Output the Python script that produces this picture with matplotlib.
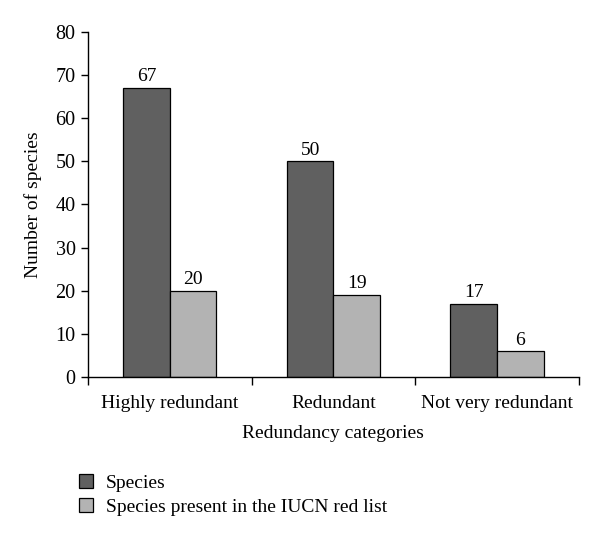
import numpy as np
import matplotlib.pyplot as plt

categories = ["Highly redundant", "Redundant", "Not very redundant"]
species = [67, 50, 17]
iucn = [20, 19, 6]
series_names = ["Species", "Species present in the IUCN red list"]

plt.rcParams["font.family"] = ["Liberation Serif", "DejaVu Serif"]
plt.rcParams["font.size"] = 14

fig = plt.figure(figsize=(6, 5.38), dpi=100)
ax = fig.add_axes([0.1467, 0.2993, 0.818, 0.6412])

x = np.arange(len(categories))
w = 0.285
b1 = ax.bar(x - w / 2, species, w, color="#606060", edgecolor="black", linewidth=0.9, label=series_names[0])
b2 = ax.bar(x + w / 2, iucn, w, color="#b3b3b3", edgecolor="black", linewidth=0.9, label=series_names[1])

for bars in (b1, b2):
    for r in bars:
        ax.text(r.get_x() + r.get_width() / 2, r.get_height() + 0.6, str(int(r.get_height())),
                ha="center", va="bottom", fontsize=14)

ax.set_xlim(-0.5, 2.5)
ax.set_ylim(0, 80)
ax.set_yticks(range(0, 81, 10))
ax.set_xticks(x)
ax.set_xticklabels(categories)
ax.set_xticks([-0.5, 0.5, 1.5, 2.5], minor=True)
ax.tick_params(axis="x", which="major", length=0, pad=13)
ax.tick_params(axis="x", which="minor", length=6, direction="out", width=1)
ax.tick_params(axis="y", length=5, width=1, pad=4, labelsize=14.5)

for s in ("top", "right"):
    ax.spines[s].set_visible(False)
for s in ("left", "bottom"):
    ax.spines[s].set_linewidth(1)

ax.set_ylabel("Number of species", labelpad=10)
ax.set_xlabel("Redundancy categories", labelpad=9)

fig.legend(handles=[b1, b2], loc="upper left", bbox_to_anchor=(0.118, 0.133), frameon=False,
           handlelength=0.75, handleheight=0.75, handletextpad=0.65, labelspacing=0.3,
           borderaxespad=0, fontsize=14)

fig.savefig("out.png", dpi=100)
